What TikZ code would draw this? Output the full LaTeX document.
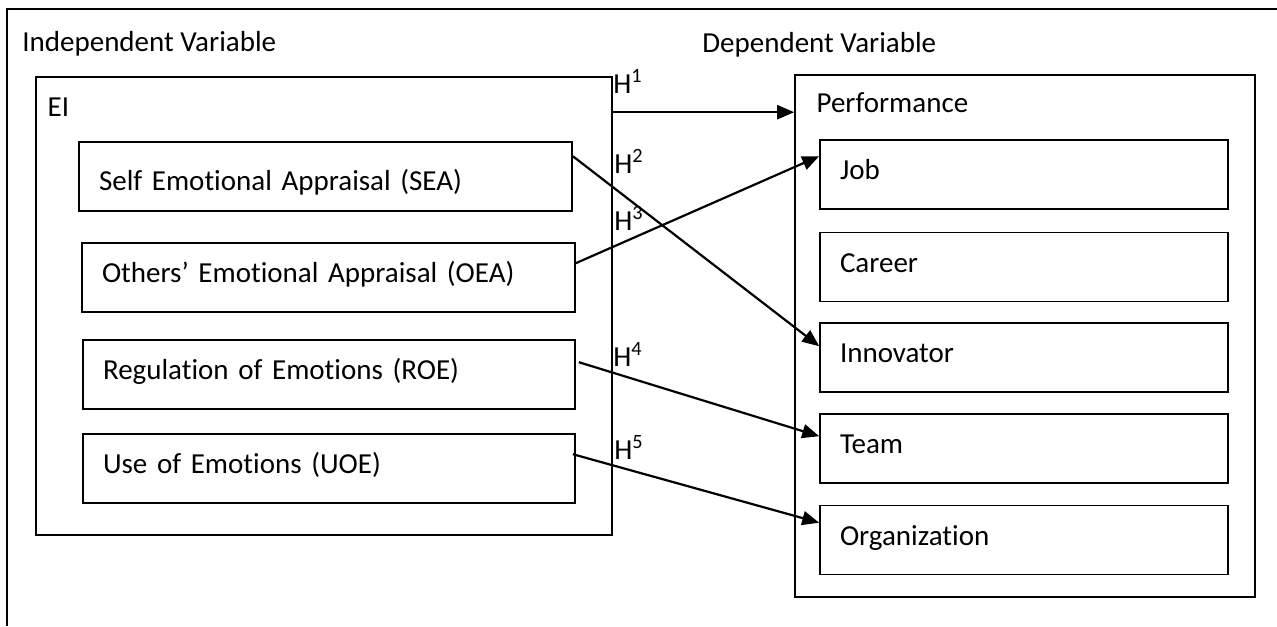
\documentclass[tikz,border=0pt]{standalone}
\usepackage{fontspec}
\setmainfont{Carlito}[Ligatures=NoCommon]
\usepackage{tikz}
\usetikzlibrary{arrows.meta,calc,positioning}
\newcommand{\boxline}{0.8pt}
\newcommand{\arrline}{1.1pt}

\tikzset{
  frame/.style={line width=1pt},
  group/.style={draw, line width=\boxline, inner sep=0pt},
  factor/.style={draw, line width=\boxline, minimum height=34.5pt, inner xsep=10pt,
                 text height=9pt, text depth=4pt, align=left, text width=#1},
  hyp/.style={line width=\arrline, -{Triangle[length=8.5pt,width=7pt]}},
  hlabel/.style={anchor=base west, inner sep=0pt},
}

\begin{document}
\begin{tikzpicture}[x=0.5pt, y=-0.5pt, font=\fontsize{14.5}{17}\selectfont]
  \useasboundingbox (0,0) rectangle (1277,626);
  % frame and headings
  \draw[frame] (1277,9) -- (7,9) -- (7,626);
  \node[hlabel] (indep) at (22,52) {Independent Variable};
  \node[hlabel] (dep) at (702,53) {Dependent Variable};

  % independent side
  \node[group, minimum width=288pt, minimum height=229pt] (ei) at (324,306) {};
  \node[hlabel] (eitxt) at ($(ei.north west)+(12,40)$) {EI};
  \node[factor=226.5pt, text height=17.5pt] (sea) at (325.5,176.5) {Self Emotional Appraisal (SEA)};
  \node[factor=226.5pt] (oea) at (328.5,277.5) {Others’ Emotional Appraisal (OEA)};
  \node[factor=226pt] (roe) at (329,374.5) {Regulation of Emotions (ROE)};
  \node[factor=226pt] (uoe) at (329,468.5) {Use of Emotions (UOE)};

  % dependent side
  \node[group, minimum width=230pt, minimum height=261pt] (perf) at (1025,336) {};
  \node[hlabel] (perftxt) at ($(perf.north west)+(22,38)$) {Performance};
  \node[factor=184pt] (job) at (1024,174.5) {Job};
  \node[factor=184pt] (career) at (1024,267) {Career};
  \node[factor=184pt] (inno) at (1024,357.5) {Innovator};
  \node[factor=184pt] (team) at (1024,448.5) {Team};
  \node[factor=184pt] (org) at (1024,540) {Organization};

  % hypotheses
  \draw[hyp] ($(ei.north east)+(0,36)$) -- ($(perf.north west)+(0,38)$);
  \draw[hyp] ($(sea.north east)+(0,15)$) -- ($(inno.north west)+(0,24)$);
  \draw[hyp] ($(oea.north east)+(0,21)$) -- ($(job.north west)+(0,17)$);
  \draw[hyp] ($(roe.north east)+(3,23)$) -- ($(team.north west)+(0,23)$);
  \draw[hyp] ($(uoe.north east)+(-3,21)$) -- ($(org.north west)+(0,18)$);

  \node[hlabel] (h1) at (613,93) {H\textsuperscript{1}};
  \node[hlabel] (h2) at (614,173) {H\textsuperscript{2}};
  \node[hlabel] (h3) at (614,230) {H\textsuperscript{3}};
  \node[hlabel] (h4) at (613,366) {H\textsuperscript{4}};
  \node[hlabel] (h5) at (614,459) {H\textsuperscript{5}};
\end{tikzpicture}
\end{document}
